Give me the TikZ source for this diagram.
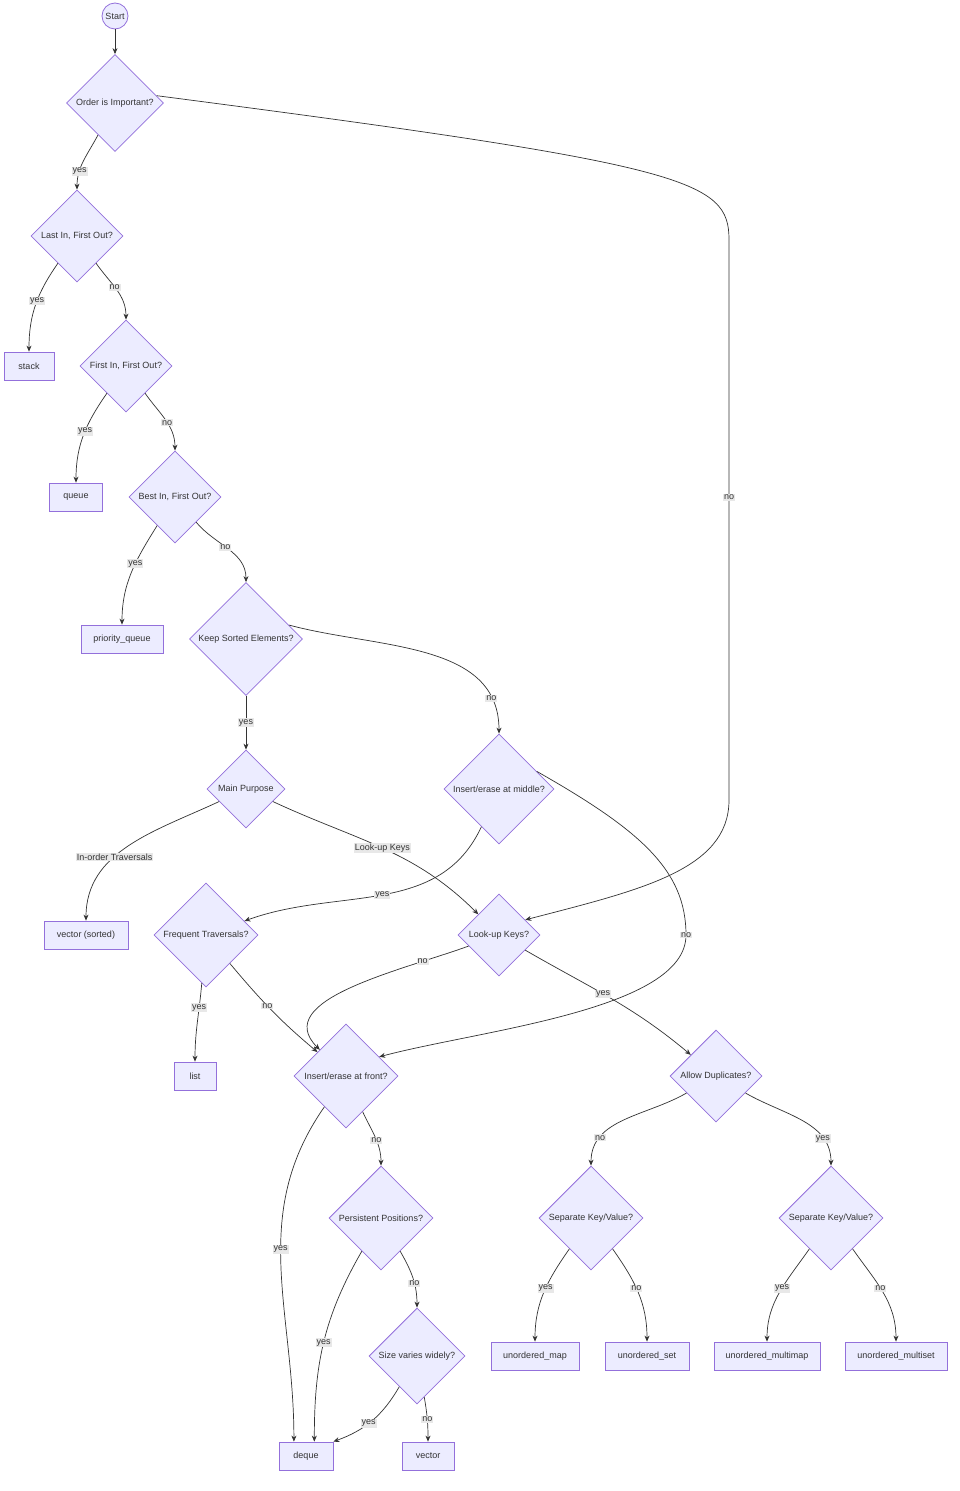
\documentclass[tikz,border=0pt]{standalone}
\usepackage{fontspec}
\setmainfont{Liberation Sans}
\usetikzlibrary{shapes.geometric,arrows.meta}
\definecolor{nfill}{HTML}{ECECFF}
\definecolor{nstroke}{HTML}{9370DB}
\definecolor{eline}{HTML}{333333}
\definecolor{lbg}{HTML}{E8E8E8}
\begin{document}
\begin{tikzpicture}[x=1pt,y=-1pt,
  every node/.style={font=\fontsize{9}{10}\selectfont,text=eline},
  box/.style={draw=nstroke,fill=nfill,line width=0.8pt,minimum height=28pt,inner sep=0pt},
  dia/.style={diamond,aspect=1,draw=nstroke,fill=nfill,line width=0.8pt,inner sep=0pt,minimum size=#1},
  circ/.style={circle,draw=nstroke,fill=nfill,line width=0.8pt,minimum size=26pt,inner sep=0pt},
  e/.style={draw=eline,line width=0.7pt,-{Stealth[length=6pt,width=5pt]}},
  lb/.style={fill=lbg,inner sep=1pt,font=\fontsize{9}{10}\selectfont}]
\useasboundingbox[fill=white] (0,0) rectangle (960,1491);
\node[circ] (st) at (115,16) {Start};
\node[dia=97pt] (d1) at (115,103) {Order is Important?};
\node[dia=92pt] (d2) at (77,236) {Last In, First Out?};
\node[box,minimum width=50pt] (stack) at (29,366) {stack};
\node[dia=92pt] (d3) at (126,366) {First In, First Out?};
\node[box,minimum width=53pt] (queue) at (76,497) {queue};
\node[dia=92pt] (d4) at (175,497) {Best In, First Out?};
\node[box,minimum width=82pt] (pq) at (122,639) {priority\_queue};
\node[dia=113pt] (d5) at (246,639) {Keep Sorted Elements?};
\node[dia=78pt] (d6) at (246,789) {Main Purpose};
\node[dia=110pt] (d7) at (499,789) {Insert/erase at middle?};
\node[box,minimum width=84pt] (vs) at (86,935) {vector (sorted)};
\node[dia=104pt] (d8) at (206,935) {Frequent Traversals?};
\node[dia=82pt] (d9) at (499,935) {Look-up Keys?};
\node[box,minimum width=42pt] (list) at (195,1076) {list};
\node[dia=104pt] (d10) at (346,1076) {Insert/erase at front?};
\node[dia=92pt] (d11) at (716,1076) {Allow Duplicates?};
\node[dia=104pt] (d12) at (381,1218) {Persistent Positions?};
\node[dia=104pt] (d13) at (591,1218) {Separate Key/Value?};
\node[dia=104pt] (d14) at (831,1218) {Separate Key/Value?};
\node[dia=96pt] (d15) at (417,1356) {Size varies widely?};
\node[box,minimum width=88pt] (um) at (535,1356) {unordered\_map};
\node[box,minimum width=84pt] (us) at (647,1356) {unordered\_set};
\node[box,minimum width=106pt] (umm) at (767,1356) {unordered\_multimap};
\node[box,minimum width=102pt] (ums) at (896,1356) {unordered\_multiset};
\node[box,minimum width=54pt] (dq) at (306,1456) {deque};
\node[box,minimum width=52pt] (vec) at (428,1456) {vector};
\coordinate (c1) at (729,240);
\coordinate (c2) at (729,800);

\draw[e] (st) -- (d1);
\draw[e] (d1) to[out=-118,in=90] node[lb,pos=0.7]{yes} (d2);
\draw[e] (d1.10) .. controls (690,165) and (729,180) .. (c1) -- node[lb,pos=0.46]{no} (c2) .. controls (729,870) and (640,890) .. (d9.30);
\draw[e] (d2) to[out=-125,in=90] node[lb,pos=0.45]{yes} (stack);
\draw[e] (d2) to[out=-55,in=90] node[lb,pos=0.45]{no} (d3);
\draw[e] (d3) to[out=-125,in=90] node[lb,pos=0.45]{yes} (queue);
\draw[e] (d3) to[out=-55,in=90] node[lb,pos=0.55]{no} (d4);
\draw[e] (d4) to[out=-122,in=90] node[lb,pos=0.4]{yes} (pq);
\draw[e] (d4) to[out=-50,in=90] node[lb,pos=0.45]{no} (d5);
\draw[e] (d5) -- node[lb]{yes} (d6);
\draw[e] (d5.18) to[out=-15,in=90] node[lb,pos=0.85]{no} (d7);
\draw[e] (d6) to[out=-155,in=90] node[lb,pos=0.6]{In-order Traversals} (vs);
\draw[e] (d6) to[out=-25,in=135] node[lb,pos=0.5]{Look-up Keys} (d9);
\draw[e] (d7) to[out=-115,in=20] node[lb,pos=0.5]{yes} (d8);
\draw[e] (d7.25) .. controls (640,830) and (686,870) .. (686,935) node[lb]{no} .. controls (686,1010) and (480,1030) .. (d10.30);
\draw[e] (d8) to[out=-95,in=90] node[lb,pos=0.3]{yes} (list);
\draw[e] (d8) to[out=-50,in=140] node[lb,pos=0.45]{no} (d10);
\draw[e] (d9) to[out=-160,in=135] node[lb,pos=0.2]{no} (d10);
\draw[e] (d9) to[out=-30,in=140] node[lb,pos=0.45]{yes} (d11);
\draw[e] (d10) to[out=-125,in=90] node[lb,pos=0.45]{yes} (dq.130);
\draw[e] (d10) to[out=-65,in=90] node[lb,pos=0.55]{no} (d12);
\draw[e] (d11) to[out=-150,in=90] node[lb,pos=0.75]{no} (d13);
\draw[e] (d11) to[out=-30,in=90] node[lb,pos=0.75]{yes} (d14);
\draw[e] (d12) to[out=-120,in=90] node[lb,pos=0.5]{yes} (dq.60);
\draw[e] (d12) to[out=-60,in=90] node[lb,pos=0.6]{no} (d15);
\draw[e] (d13) to[out=-125,in=90] node[lb,pos=0.45]{yes} (um);
\draw[e] (d13) to[out=-55,in=90] node[lb,pos=0.45]{no} (us);
\draw[e] (d14) to[out=-125,in=90] node[lb,pos=0.45]{yes} (umm);
\draw[e] (d14) to[out=-55,in=90] node[lb,pos=0.45]{no} (ums);
\draw[e] (d15) to[out=-120,in=20] node[lb,pos=0.55]{yes} (dq.north east);
\draw[e] (d15) to[out=-80,in=90] node[lb,pos=0.5]{no} (vec);
\end{tikzpicture}
\end{document}
